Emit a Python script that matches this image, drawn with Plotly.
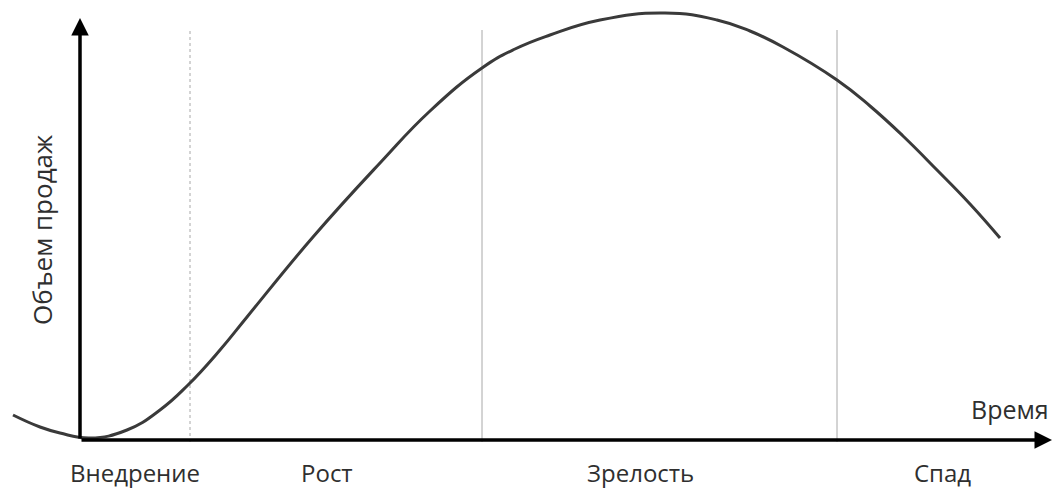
import plotly.graph_objects as go

# product life cycle curve (time vs. sales volume, arbitrary units)
time = [-67, -40, -20, 10, 47, 80, 108, 140, 167, 233, 300, 350, 402, 435, 470, 520,
        585, 637, 670, 703, 757, 790, 823, 857, 890, 920]
sales = [25, 13, 7, 2, 10, 30, 55, 90, 123, 203, 277, 329, 372, 391, 405, 420,
         427, 420, 409, 393, 360, 334, 304, 270, 236, 202]

# stage boundaries and stage names
boundaries = [110, 402, 757]
stages = ["Внедрение", "Рост", "Зрелость", "Спад"]
stage_pos = [55, 247, 560, 862]

x_title = "Время"
y_title = "Объем продаж"

FONT = "Open Sans, Noto Sans, sans-serif"
TEXT_COLOR = "#2f2f2f"

fig = go.Figure()

fig.add_trace(go.Scatter(
    x=time, y=sales,
    mode="lines",
    line=dict(color="#3a3a3a", width=3, shape="spline", smoothing=1.3),
    hoverinfo="skip",
    showlegend=False
))

shapes = []
for i, b in enumerate(boundaries):
    shapes.append(dict(
        type="line", xref="x", yref="y",
        x0=b, x1=b, y0=-2, y1=410,
        line=dict(color="#a8a8a8", width=1, dash="dot" if i == 0 else "solid"),
        layer="below"
    ))

annotations = [
    # axes with arrow heads
    dict(x=972, y=0, ax=0, ay=0, xref="x", yref="y", axref="x", ayref="y",
         showarrow=True, arrowhead=2, arrowsize=1, arrowwidth=3.5, arrowcolor="#000", text=""),
    dict(x=0, y=422, ax=0, ay=0, xref="x", yref="y", axref="x", ayref="y",
         showarrow=True, arrowhead=2, arrowsize=1, arrowwidth=3.5, arrowcolor="#000", text=""),
    dict(x=930, y=31, xref="x", yref="y", text=x_title, showarrow=False,
         font=dict(family=FONT, size=25, color=TEXT_COLOR)),
    dict(x=-38, y=210, xref="x", yref="y", text=y_title, showarrow=False, textangle=-90,
         font=dict(family=FONT, size=26, color=TEXT_COLOR)),
]
for name, pos in zip(stages, stage_pos):
    annotations.append(dict(
        x=pos, y=-32, xref="x", yref="y", text=name, showarrow=False,
        font=dict(family=FONT, size=24, color=TEXT_COLOR)
    ))

fig.update_layout(
    width=1052, height=488,
    margin=dict(l=0, r=0, t=0, b=0),
    paper_bgcolor="white",
    plot_bgcolor="white",
    xaxis=dict(range=[-80, 972], visible=False, fixedrange=True),
    yaxis=dict(range=[-48, 440], visible=False, fixedrange=True),
    shapes=shapes,
    annotations=annotations
)

fig.write_html("out.html", config={"displayModeBar": False},
               post_script="document.body.style.margin='0';")
